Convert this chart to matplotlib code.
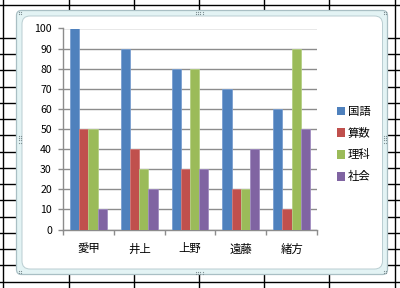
import matplotlib
matplotlib.use("Agg")
import matplotlib.pyplot as plt
import numpy as np
from matplotlib.patches import FancyBboxPatch
from matplotlib.lines import Line2D

plt.rcParams['font.family'] = ['Noto Sans CJK JP', 'DejaVu Sans']

# --- data -------------------------------------------------------------
students = ['愛甲', '井上', '上野', '遠藤', '緒方']
subjects = ['国語', '算数', '理科', '社会']
kokugo = [100, 90, 80, 70, 60]
sansu = [50, 40, 30, 20, 10]
rika = [50, 30, 80, 20, 90]
shakai = [10, 20, 30, 40, 50]
y_ticks = [0, 10, 20, 30, 40, 50, 60, 70, 80, 90, 100]

series = [kokugo, sansu, rika, shakai]
colors = ['#4F81BD', '#C0504D', '#9BBB59', '#8064A2']
edges = ['#7A9FD0', '#D27A78', '#B5CF85', '#A08CC0']

W, H = 400, 288
fig = plt.figure(figsize=(W / 100, H / 100), dpi=100)
fig.patch.set_facecolor('white')

# --- worksheet background (pixel coordinates) -------------------------
bg = fig.add_axes([0, 0, 1, 1])
bg.set_xlim(0, W)
bg.set_ylim(H, 0)
bg.axis('off')

col_x = [3, 69, 134, 199, 264, 329, 394.5]
row_y = [5] + list(37.7 + 16.27 * np.arange(16))
for x in col_x:
    bg.add_line(Line2D([x, x], [0, H], color='black', lw=1.0, zorder=1))
for y in row_y:
    bg.add_line(Line2D([0, W], [y, y], color='black', lw=1.0, zorder=1))

# chart frame: pale border with rounded corners
frame = FancyBboxPatch((16.5, 10.5), 371, 264,
                       boxstyle='round,pad=0,rounding_size=5',
                       facecolor='#E3F3F4', edgecolor='#A9BFC4', lw=0.9,
                       zorder=5)
bg.add_patch(frame)
inner = FancyBboxPatch((22, 16), 360.5, 253,
                       boxstyle='round,pad=0,rounding_size=8',
                       facecolor='white', edgecolor='#B9CDD1', lw=0.7,
                       zorder=6)
bg.add_patch(inner)

# selection handles
def handle(cx, cy, nx, ny):
    for i in range(nx):
        for j in range(ny):
            bg.plot(cx + i * 2.2, cy + j * 2.2, marker='s', ms=0.8,
                    color='#7F9094', mew=0, zorder=7)

for cx, cy in [(18.5, 12), (384.0, 12), (18.5, 271.0), (384.0, 271.0)]:
    handle(cx, cy, 2, 2)
handle(196, 11.5, 4, 2)
handle(196, 271.5, 4, 2)
handle(18.5, 136, 2, 4)
handle(384.0, 136, 2, 4)

# --- column chart -----------------------------------------------------
left, right, top, bottom = 63, 317, 28.5, 229.5
ax = fig.add_axes([left / W, 1 - bottom / H, (right - left) / W, (bottom - top) / H])
ax.set_facecolor('none')

n = len(series)
bw = 1 / (n + 1.5)
x = np.arange(len(students))
for i, (vals, c, e) in enumerate(zip(series, colors, edges)):
    offs = (i - (n - 1) / 2) * bw
    ax.bar(x + offs, vals, width=bw, color=c, edgecolor=e, lw=0.6,
           label=subjects[i], zorder=3)

ax.set_xlim(-0.5, len(students) - 0.5)
ax.set_ylim(0, 100)
ax.set_yticks(y_ticks)
ax.yaxis.grid(True, color='#8C8C8C', lw=1.0, zorder=0)
ax.set_axisbelow(True)

for s in ['top', 'right']:
    ax.spines[s].set_visible(False)
for s in ['left', 'bottom']:
    ax.spines[s].set_color('#8C8C8C')
    ax.spines[s].set_linewidth(1.0)

ax.tick_params(axis='y', direction='out', length=3.5, width=1.0,
               color='#8C8C8C', pad=4.5, labelsize=7.6, labelcolor='black')
ax.set_xticks(x)
ax.set_xticklabels(students)
ax.set_xticks(np.arange(len(students) + 1) - 0.5, minor=True)
ax.tick_params(axis='x', which='major', length=0, pad=10, labelsize=8.2,
               labelcolor='black')
ax.tick_params(axis='x', which='minor', direction='out', length=3.5,
               width=1.0, color='#8C8C8C')

leg = ax.legend(loc='center left', bbox_to_anchor=(331 / W, 1 - 144.5 / H),
                bbox_transform=fig.transFigure, frameon=False,
                fontsize=8.2, handlelength=0.75, handleheight=0.75,
                handletextpad=0.25, labelspacing=0.95, borderpad=0)
for h in leg.legend_handles:
    h.set_linewidth(0)

fig.savefig('out.png', dpi=100, facecolor='white')
